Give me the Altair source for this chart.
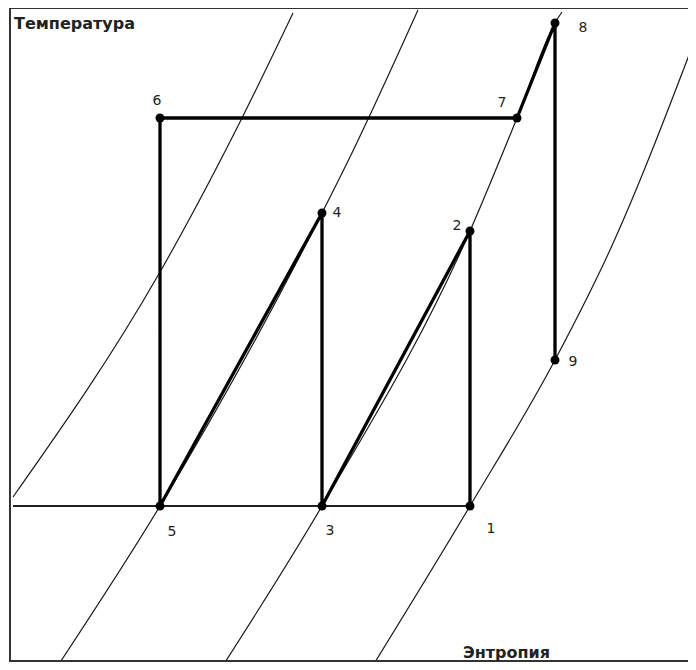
import altair as alt
import pandas as pd

# State points of the cycle (arbitrary entropy / temperature units)
point_names = ["1", "2", "3", "4", "5", "6", "7", "8", "9"]
point_s = [460, 460, 312, 312, 150, 150, 507, 545, 545]
point_T = [161, 436, 161, 454, 161, 549, 549, 644, 307]

# Thin isobars
isobar_A_s = [3, 150, 232, 283]
isobar_A_T = [170, 395, 549, 654]
isobar_B_s = [47, 150, 312, 340, 408]
isobar_B_T = [0, 161, 454, 510, 657]
isobar_C_s = [212, 312, 460, 507, 545, 552]
isobar_C_T = [0, 161, 436, 549, 644, 655]
isobar_D_s = [362, 460, 545, 600, 684]
isobar_D_T = [0, 161, 307, 417, 625]

# Base (low-pressure) horizontal line
base_s = [3, 460]
base_T = [161, 161]

y_title = "Температура"
x_title = "Энтропия"

W, H = 678, 654
S_DOM = [0, 678]
T_DOM = [5, 659]

xs = alt.Scale(domain=S_DOM, nice=False, zero=False)
ys = alt.Scale(domain=T_DOM, nice=False, zero=False)

pts = pd.DataFrame({"name": point_names, "s": point_s, "T": point_T,
                    "order": list(range(len(point_names)))})

rows = []
for nm, ss, tt in [("A", isobar_A_s, isobar_A_T), ("B", isobar_B_s, isobar_B_T),
                   ("C", isobar_C_s, isobar_C_T), ("D", isobar_D_s, isobar_D_T)]:
    for i, (a, b) in enumerate(zip(ss, tt)):
        rows.append({"curve": nm, "s": a, "T": b, "i": i})
iso = pd.DataFrame(rows)
base = pd.DataFrame({"s": base_s, "T": base_T})

X = alt.X("s:Q", scale=xs, axis=None)
Y = alt.Y("T:Q", scale=ys, axis=None)

isobars = alt.Chart(iso).mark_line(color="#1a1a1a", strokeWidth=1.2,
                                   interpolate="monotone", clip=True).encode(
    x=X, y=Y, detail="curve:N", order="i:Q")

base_line = alt.Chart(base).mark_line(color="#222", strokeWidth=2, clip=True).encode(x=X, y=Y)

cycle = alt.Chart(pts).mark_line(color="#000", strokeWidth=3.3, strokeJoin="round",
                                 strokeCap="round").encode(x=X, y=Y, order="order:Q")

dots = alt.Chart(pts).mark_point(filled=True, shape="circle", size=80, color="#000",
                                 opacity=1).encode(x=X, y=Y)

offsets = {"1": (21, 23), "2": (-13, -5), "3": (8, 25), "4": (15, 0), "5": (12, 26),
           "6": (-3, -17), "7": (-15, -15), "8": (28, 5), "9": (18, 2)}
label_layers = []
for nm in point_names:
    dx, dy = offsets[nm]
    label_layers.append(
        alt.Chart(pts).transform_filter(alt.datum.name == nm).mark_text(
            font="DejaVu Sans", fontSize=14, color="#222", align="center",
            baseline="middle", dx=dx, dy=dy).encode(x=X, y=Y, text="name:N"))

frame_left = alt.Chart(pts).mark_rule(color="#333", strokeWidth=2).encode(
    x=alt.value(0), y=alt.value(0), y2=alt.value(H))
frame_top = alt.Chart(pts).mark_rule(color="#333", strokeWidth=2).encode(
    x=alt.value(0), x2=alt.value(W), y=alt.value(0))
frame_bottom = alt.Chart(pts).mark_rule(color="#333", strokeWidth=2).encode(
    x=alt.value(0), x2=alt.value(W), y=alt.value(H - 1))

t_title = alt.Chart(pts).transform_filter(alt.datum.name == "1").mark_text(
    font="DejaVu Sans", fontSize=16, fontWeight=600, color="#222", align="left",
    baseline="middle").encode(x=alt.value(4), y=alt.value(16), text=alt.value(y_title))
s_title = alt.Chart(pts).transform_filter(alt.datum.name == "1").mark_text(
    font="DejaVu Sans", fontSize=16, fontWeight=600, color="#222", align="left",
    baseline="middle").encode(x=alt.value(453), y=alt.value(645), text=alt.value(x_title))

chart = alt.layer(isobars, base_line, cycle, dots, *label_layers,
                  frame_left, frame_top, frame_bottom, t_title, s_title).properties(
    width=W, height=H,
    autosize=alt.AutoSizeParams(type="none"),
    padding={"left": 2, "top": 0, "right": 0, "bottom": 0},
    background="white",
    view=alt.ViewBackground(strokeWidth=0, strokeOpacity=0),
)

chart.save("out.html", embed_options={"renderer": "svg", "actions": False})
